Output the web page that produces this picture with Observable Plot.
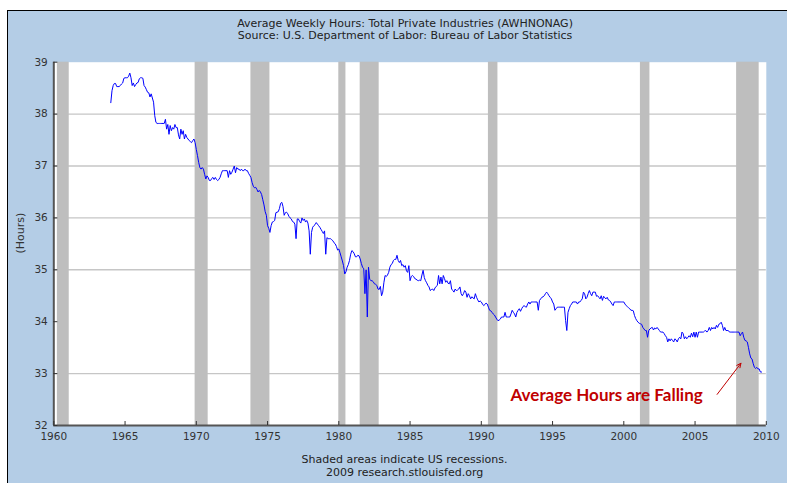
<!DOCTYPE html>
<html><head><meta charset="utf-8">
<script src="https://cdn.jsdelivr.net/npm/d3@7"></script>
<script src="https://cdn.jsdelivr.net/npm/@observablehq/plot@0.6"></script>
<style>
body{margin:0;background:#fff;}
#wrap{position:absolute;left:7px;top:10px;border-left:1px solid #000;border-top:1px solid #000;width:779px;height:472px;overflow:hidden;}
#wrap svg{display:block;}
</style></head><body><div id="wrap"></div>
<script>
// ---- Text ----
const titleLines = ["Average Weekly Hours: Total Private Industries (AWHNONAG)", "Source: U.S. Department of Labor: Bureau of Labor Statistics"];
const footerLines = ["Shaded areas indicate US recessions.", "2009 research.stlouisfed.org"];
const yAxisLabel = "(Hours)";

// ---- Scales / ticks ----
const xDomain = [1960, 2010];
const yDomain = [32, 39];
const xTickValues = [1960, 1965, 1970, 1975, 1980, 1985, 1990, 1995, 2000, 2005, 2010];
const yTickValues = [32, 33, 34, 35, 36, 37, 38, 39];
const yGridValues = [33, 35, 36, 37, 38];

// ---- Recessions (peak month, trough month) ----
const recessionPeaks   = ["1960-04", "1969-12", "1973-11", "1980-01", "1981-07", "1990-07", "2001-03", "2007-12"];
const recessionTroughs = ["1961-02", "1970-11", "1975-03", "1980-07", "1982-11", "1991-03", "2001-11", "2009-07"];

// ---- Monthly average weekly hours ----
const hours1960s = [ // from Jan 1964
  38.22, 38.45, 38.55, 38.59, 38.59, 38.53, 38.53, 38.53, 38.55, 38.58, 38.60, 38.69,
  38.70, 38.70, 38.70, 38.73, 38.79, 38.70, 38.55, 38.60, 38.53, 38.57, 38.60, 38.61,
  38.68, 38.70, 38.70, 38.69, 38.55, 38.52, 38.47, 38.42, 38.41, 38.33, 38.39, 38.31,
  38.23, 37.97, 37.84, 37.82, 37.82, 37.82, 37.82, 37.82, 37.82, 37.82, 37.90, 37.71,
  37.80, 37.61, 37.78, 37.68, 37.74, 37.71, 37.80, 37.74, 37.74, 37.60, 37.52, 37.71,
  37.61, 37.68, 37.52, 37.61, 37.55, 37.52, 37.49, 37.47, 37.45, 37.49, 37.52, 37.45
];
const hours1970s = [
  37.32, 37.20, 37.07, 36.97, 36.94, 36.97, 36.94, 36.84, 36.75, 36.81, 36.78, 36.72,
  36.72, 36.76, 36.78, 36.74, 36.78, 36.74, 36.72, 36.74, 36.78, 36.85, 36.91, 36.91,
  36.91, 36.91, 36.91, 36.78, 36.91, 36.84, 36.88, 36.94, 37.00, 36.87, 36.97, 36.94,
  36.94, 36.91, 36.94, 36.91, 36.91, 36.94, 36.91, 36.91, 36.86, 36.82, 36.78, 36.68,
  36.61, 36.58, 36.59, 36.55, 36.50, 36.53, 36.50, 36.45, 36.35, 36.25, 36.12, 36.05,
  35.85, 35.80, 35.72, 35.85, 35.92, 35.93, 35.95, 36.10, 36.11, 36.12, 36.18, 36.28,
  36.30, 36.22, 36.05, 36.10, 36.11, 36.08, 36.03, 36.00, 35.98, 35.93, 35.92, 35.88,
  35.60, 35.98, 35.98, 35.93, 35.90, 36.00, 35.95, 35.98, 35.92, 35.95, 35.90, 35.75,
  35.30, 35.72, 35.82, 35.85, 35.87, 35.91, 35.88, 35.85, 35.82, 35.78, 35.74, 35.70,
  35.75, 35.30, 35.62, 35.60, 35.60, 35.60, 35.58, 35.56, 35.52, 35.50, 35.45, 35.38
];
const hours1980s = [
  35.40, 35.33, 35.25, 35.17, 35.08, 34.92, 34.96, 35.05, 35.10, 35.18, 35.30, 35.37,
  35.35, 35.31, 35.25, 35.25, 35.28, 35.27, 35.21, 35.12, 35.05, 35.02, 34.54, 35.00,
  34.09, 35.05, 34.82, 34.79, 34.79, 34.77, 34.73, 34.72, 34.70, 34.63, 34.62, 34.68,
  34.50, 34.57, 34.76, 34.89, 34.87, 34.90, 34.95, 35.05, 35.10, 35.12, 35.18, 35.20,
  35.20, 35.28, 35.18, 35.14, 35.18, 35.08, 35.10, 35.05, 35.08, 34.98, 34.95, 35.08,
  34.79, 34.87, 34.89, 34.87, 34.83, 34.82, 34.80, 34.79, 34.80, 34.79, 34.90, 34.99,
  34.85, 34.79, 34.75, 34.70, 34.67, 34.60, 34.62, 34.63, 34.60, 34.65, 34.68, 34.70,
  34.89, 34.73, 34.86, 34.73, 34.89, 34.83, 34.76, 34.79, 34.74, 34.73, 34.79, 34.63,
  34.60, 34.57, 34.63, 34.60, 34.61, 34.63, 34.67, 34.54, 34.50, 34.54, 34.60, 34.57,
  34.47, 34.54, 34.50, 34.44, 34.48, 34.46, 34.44, 34.54, 34.47, 34.42, 34.38, 34.40
];
const hours1990s = [
  34.38, 34.34, 34.31, 34.33, 34.36, 34.34, 34.28, 34.22, 34.21, 34.18, 34.15, 34.13,
  34.09, 34.05, 34.02, 34.03, 34.05, 34.09, 34.09, 34.09, 34.18, 34.09, 34.09, 34.09,
  34.09, 34.15, 34.22, 34.18, 34.15, 34.09, 34.18, 34.22, 34.25, 34.20, 34.25, 34.29,
  34.31, 34.29, 34.28, 34.34, 34.38, 34.34, 34.38, 34.38, 34.38, 34.38, 34.38, 34.38,
  34.22, 34.41, 34.44, 34.47, 34.48, 34.50, 34.54, 34.57, 34.54, 34.50, 34.47, 34.44,
  34.38, 34.34, 34.22, 34.25, 34.28, 34.28, 34.28, 34.28, 34.28, 34.28, 34.28, 34.02,
  33.83, 34.18, 34.25, 34.31, 34.34, 34.38, 34.38, 34.38, 34.38, 34.34, 34.38, 34.38,
  34.41, 34.44, 34.57, 34.54, 34.44, 34.47, 34.54, 34.60, 34.54, 34.50, 34.57, 34.57,
  34.57, 34.49, 34.50, 34.47, 34.44, 34.50, 34.41, 34.49, 34.46, 34.44, 34.47, 34.42,
  34.41, 34.38, 34.34, 34.31, 34.38, 34.38, 34.38, 34.38, 34.38, 34.38, 34.38, 34.38
];
const hours2000s = [ // through Sep 2009
  34.38, 34.34, 34.31, 34.29, 34.27, 34.25, 34.22, 34.22, 34.21, 34.12, 34.06, 34.02,
  33.99, 33.97, 33.96, 33.95, 33.89, 33.86, 33.83, 33.83, 33.70, 33.83, 33.86, 33.88,
  33.89, 33.84, 33.88, 33.86, 33.89, 33.86, 33.83, 33.80, 33.80, 33.80, 33.77, 33.73,
  33.70, 33.61, 33.67, 33.63, 33.67, 33.64, 33.61, 33.67, 33.65, 33.61, 33.67, 33.70,
  33.67, 33.80, 33.77, 33.67, 33.71, 33.67, 33.70, 33.73, 33.70, 33.78, 33.71, 33.80,
  33.70, 33.80, 33.70, 33.80, 33.80, 33.80, 33.80, 33.80, 33.82, 33.83, 33.80, 33.83,
  33.89, 33.83, 33.89, 33.86, 33.89, 33.86, 33.93, 33.89, 33.95, 33.96, 33.99, 33.93,
  33.83, 33.89, 33.83, 33.83, 33.83, 33.80, 33.80, 33.80, 33.80, 33.80, 33.80, 33.80,
  33.80, 33.80, 33.73, 33.77, 33.80, 33.70, 33.64, 33.63, 33.61, 33.50, 33.38, 33.30,
  33.28, 33.19, 33.12, 33.10, 33.12, 33.09, 33.09, 33.03, 33.03
];
const decadeStarts = [1964, 1970, 1980, 1990, 2000];

// ---- Annotation ----
const calloutText = "Average Hours are Falling";
const calloutAt = [{x: 1992.05, y: 32.48}];
const calloutArrow = [{x1: 2006.55, y1: 32.6, x2: 2008.22, y2: 33.2}];

// ---- Build tables ----
const monthToYear = s => { const [y, m] = s.split("-").map(Number); return y + (m - 1) / 12; };
const recessions = recessionPeaks.map((p, i) => ({start: monthToYear(p), end: monthToYear(recessionTroughs[i])}));
const series = [];
[hours1960s, hours1970s, hours1980s, hours1990s, hours2000s].forEach((arr, k) => {
  arr.forEach((v, i) => series.push({date: decadeStarts[k] + i / 12, hours: v}));
});

const FONT = "'DejaVu Sans', Verdana, sans-serif";
const chart = Plot.plot({
  width: 779, height: 472,
  marginLeft: 45.3, marginRight: 21.2, marginTop: 50.7, marginBottom: 58,
  style: {background: "#b4cde6", fontFamily: FONT, fontSize: "10.5px", color: "#333", overflow: "visible"},
  x: {domain: xDomain},
  y: {domain: yDomain},
  marks: [
    Plot.frame({fill: "white", stroke: "none"}),
    Plot.gridY(yGridValues, {stroke: "#c6c6c6", strokeOpacity: 1, strokeWidth: 1.4}),
    Plot.rect(recessions, {x1: "start", x2: "end", fill: "#bebebe"}),
    Plot.line(series, {x: "date", y: "hours", stroke: "#0000ff", strokeWidth: 1}),
    Plot.ruleX([xDomain[0]], {stroke: "#555", strokeWidth: 2}),
    Plot.ruleY([yDomain[0]], {stroke: "#555", strokeWidth: 2}),
    Plot.axisX(xTickValues, {tickSize: -4, tickPadding: 11.5, tickFormat: d3.format("d"), label: null, color: "#333", fontSize: 10.5}),
    Plot.axisY(yTickValues, {tickSize: -4, tickPadding: 10, tickFormat: d3.format("d"), label: null, color: "#333", fontSize: 10.5}),
    Plot.text([yAxisLabel], {frameAnchor: "left", rotate: -90, dx: -33.8, dy: 9.6, fontSize: 11, fill: "#333"}),
    Plot.text([titleLines[0]], {frameAnchor: "top", lineAnchor: "bottom", dx: -5, dy: -35.7, fontSize: 11, fill: "#222"}),
    Plot.text([titleLines[1]], {frameAnchor: "top", lineAnchor: "bottom", dx: -5, dy: -23.2, fontSize: 11, fill: "#222"}),
    Plot.text([footerLines[0]], {frameAnchor: "bottom", lineAnchor: "bottom", dx: -5.5, dy: 37.5, fontSize: 11, fill: "#222"}),
    Plot.text([footerLines[1]], {frameAnchor: "bottom", lineAnchor: "bottom", dx: -5.5, dy: 50, fontSize: 11, fill: "#222"}),
    Plot.text(calloutAt, {x: "x", y: "y", text: () => calloutText, textAnchor: "start", lineAnchor: "bottom", fill: "#c00000", fontFamily: "Lato, 'Open Sans', sans-serif", fontWeight: "bold", fontSize: 17}),
    Plot.arrow(calloutArrow, {x1: "x1", y1: "y1", x2: "x2", y2: "y2", stroke: "#c00000", strokeWidth: 1, headLength: 7, headAngle: 50})
  ]
});
document.getElementById("wrap").appendChild(chart);
</script>
</body></html>
